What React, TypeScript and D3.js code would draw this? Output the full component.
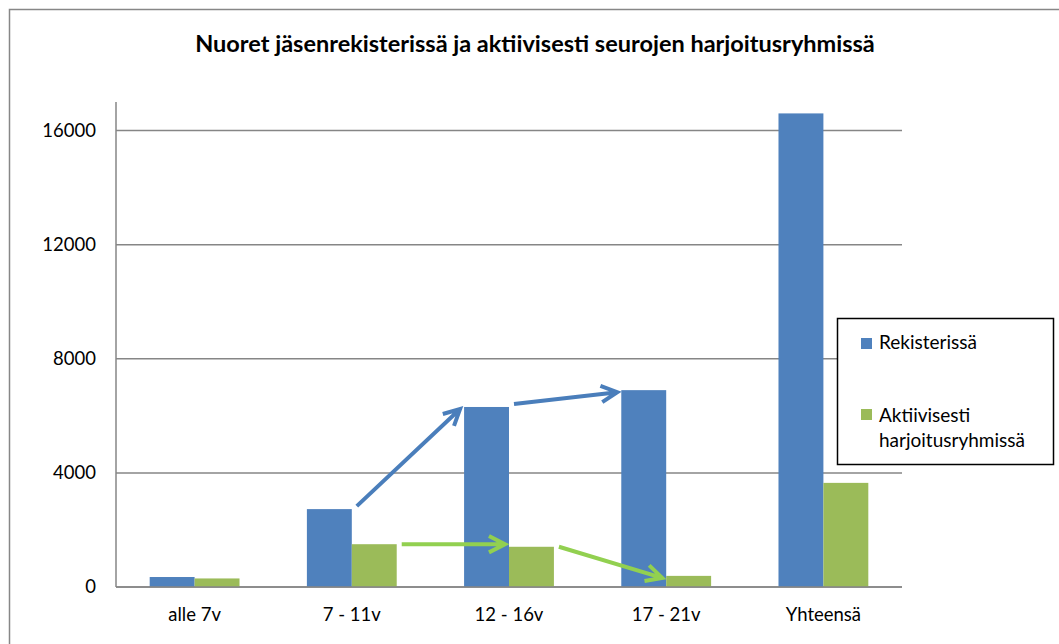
import * as d3 from "d3";

const title = "Nuoret jäsenrekisterissä ja aktiivisesti seurojen harjoitusryhmissä";
const categories = ["alle 7v", "7 - 11v", "12 - 16v", "17 - 21v", "Yhteensä"];
const rekisterissa = [350, 2730, 6310, 6900, 16600];
const aktiivisesti = [300, 1500, 1410, 390, 3650];
const seriesNames = ["Rekisterissä", "Aktiivisesti harjoitusryhmissä"];
const yTicks = [0, 4000, 8000, 12000, 16000];
// hand-drawn arrows in the original: series index, from category, to category
const arrows = [
  { s: 0, from: 1, to: 2 },
  { s: 0, from: 2, to: 3 },
  { s: 1, from: 1, to: 2 },
  { s: 1, from: 2, to: 3 },
];

const W = 1059;
const H = 644;
const margin = { top: 102, right: 157, bottom: 57, left: 116 };
const barColors = ["#4F81BD", "#9BBB59"];
const arrowColors = ["#4A7EBB", "#92D050"];
const gridColor = "#868686";
const font = "Lato, 'Open Sans', sans-serif";

export default function App() {
  const series = [rekisterissa, aktiivisesti];

  const x = d3.scaleBand<string>()
    .domain(categories)
    .range([margin.left, W - margin.right]);

  const y = d3.scaleLinear()
    .domain([0, 17000])
    .range([H - margin.bottom, margin.top]);

  // Excel gap width 150%
  const barW = x.bandwidth() / 3.5;
  const barX = (s: number, i: number) => x(categories[i])! + x.bandwidth() / 2 + (s - 1) * barW;

  const arrowPaths = arrows.map(a => {
    const vals = series[a.s];
    const x1 = barX(a.s, a.from) + barW + 5;
    const y1 = y(vals[a.from]) - (a.s === 0 ? 3 : 0);
    const x2 = barX(a.s, a.to) - 4;
    const y2 = a.s === 1 && a.from === 1 ? y1 : y(vals[a.to]) + 2;
    const ang = Math.atan2(y2 - y1, x2 - x1);
    const len = 18;
    const spread = (27 * Math.PI) / 180;
    const h1 = [x2 - len * Math.cos(ang - spread), y2 - len * Math.sin(ang - spread)];
    const h2 = [x2 - len * Math.cos(ang + spread), y2 - len * Math.sin(ang + spread)];
    return {
      color: arrowColors[a.s],
      d: `M${x1},${y1}L${x2},${y2}M${h1[0]},${h1[1]}L${x2},${y2}L${h2[0]},${h2[1]}`,
    };
  });

  const lx = 837;
  const ly = 318;

  return (
    <svg width={W} height={H} style={{ display: "block", position: "absolute", left: 0, top: 0 }}>
      <rect x={0} y={0} width={W} height={H} fill="#fff" />
      <rect x={9.5} y={9.5} width={1060} height={650} fill="#fff" stroke="#878787" strokeWidth={1.5} />

      <text x={535} y={52} textAnchor="middle" fontFamily={font} fontWeight="bold" fontSize={23.5} fill="#000">
        {title}
      </text>

      {/* gridlines */}
      <g>
        {yTicks.map(t => (
          <line key={t} x1={margin.left} x2={W - margin.right} y1={y(t)} y2={y(t)}
            stroke={gridColor} strokeWidth={1.5} />
        ))}
      </g>
      <line x1={margin.left} x2={margin.left} y1={margin.top} y2={y(0)} stroke={gridColor} strokeWidth={1.5} />

      {/* y labels */}
      <g fontFamily={font} fontSize={18.5} fill="#000" textAnchor="end">
        {yTicks.map(t => (
          <text key={t} x={margin.left - 20} y={y(t)} dy="0.35em">{t}</text>
        ))}
      </g>

      {/* bars */}
      {series.map((vals, s) => (
        <g key={s} fill={barColors[s]}>
          {vals.map((v, i) => (
            <rect key={i} x={barX(s, i)} y={y(v)} width={barW} height={y(0) - y(v)} />
          ))}
        </g>
      ))}

      <line x1={margin.left} x2={W - margin.right} y1={y(0)} y2={y(0)} stroke={gridColor} strokeWidth={1.5} />

      {/* x labels */}
      <g fontFamily={font} fontSize={18.5} fill="#000" textAnchor="middle">
        {categories.map(c => (
          <text key={c} x={x(c)! + x.bandwidth() / 2} y={621}>{c}</text>
        ))}
      </g>

      {/* arrows */}
      {arrowPaths.map((a, i) => (
        <path key={i} d={a.d} fill="none" stroke={a.color} strokeWidth={4} strokeLinecap="butt" strokeLinejoin="miter" />
      ))}

      {/* legend */}
      <g fontFamily={font} fontSize={19} fill="#000">
        <rect x={lx + 0.5} y={ly + 0.5} width={216} height={146} fill="#fff" stroke="#000" strokeWidth={1.5} />
        <rect x={lx + 24} y={ly + 20} width={11} height={11} fill={barColors[0]} />
        <text x={lx + 42} y={ly + 31}>{seriesNames[0]}</text>
        <rect x={lx + 24} y={ly + 91} width={11} height={11} fill={barColors[1]} />
        <text x={lx + 42} y={ly + 104}>{seriesNames[1].split(" ")[0]}</text>
        <text x={lx + 42} y={ly + 129}>{seriesNames[1].split(" ")[1]}</text>
      </g>
    </svg>
  );
}
